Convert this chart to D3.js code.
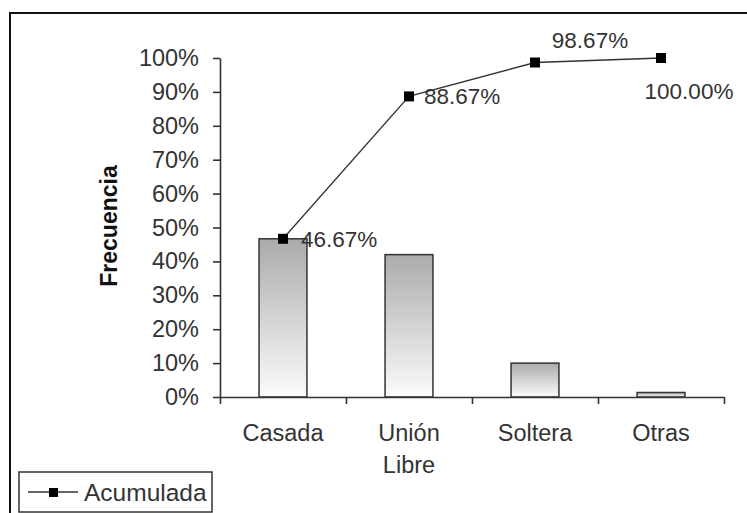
<!DOCTYPE html>
<html>
<head>
<meta charset="utf-8">
<script src="https://cdn.jsdelivr.net/npm/d3@7"></script>
<style>
  body { margin: 0; background: #fff; }
  svg text { font-family: "Liberation Sans", Arial, sans-serif; fill: #333; }
</style>
</head>
<body>
<script>
let categories = ['Casada', 'Unión Libre', 'Soltera', 'Otras'];
let frecuencia = [46.67, 42, 10, 1.33];
let acumulada = [46.67, 88.67, 98.67, 100];
let yTicks = [0, 10, 20, 30, 40, 50, 60, 70, 80, 90, 100];
// where each data label sits relative to its marker
let labelOffset = [[18, 8], [15, 8], [55, -15], [28, 41]];

let width = 747, height = 513;
let plot = { left: 220, right: 724, top: 58, bottom: 397 };

let svg = d3.select('body').append('svg')
    .attr('width', width)
    .attr('height', height);

// outer chart frame (cut off at right and bottom)
svg.append('rect')
    .attr('x', 10).attr('y', 13)
    .attr('width', 800).attr('height', 600)
    .attr('fill', 'none')
    .attr('stroke', '#111')
    .attr('stroke-width', 2);

let defs = svg.append('defs');
let grad = defs.append('linearGradient')
    .attr('id', 'barGrad')
    .attr('x1', 0).attr('y1', 0).attr('x2', 0).attr('y2', 1);
grad.append('stop').attr('offset', '0%').attr('stop-color', '#ababab');
grad.append('stop').attr('offset', '100%').attr('stop-color', '#fbfbfb');

let x = d3.scaleBand()
    .domain(categories)
    .range([plot.left, plot.right])
    .paddingInner(0.62)
    .paddingOuter(0.31);

let xEdges = d3.scaleLinear().domain([0, 4]).range([plot.left, plot.right]);

let y = d3.scaleLinear().domain([0, 100]).range([plot.bottom, plot.top]);

// bars
svg.selectAll('.bar')
    .data(frecuencia)
  .enter().append('rect')
    .attr('class', 'bar')
    .attr('x', function(d, i){ return x(categories[i]); })
    .attr('y', function(d){ return y(d); })
    .attr('width', x.bandwidth())
    .attr('height', function(d){ return y(0) - y(d); })
    .attr('fill', 'url(#barGrad)')
    .attr('stroke', '#333')
    .attr('stroke-width', 1.5);

// y axis
let yAxis = svg.append('g')
    .attr('transform', 'translate(' + plot.left + ',0)')
    .call(d3.axisLeft(y).tickValues(yTicks).tickSize(7).tickSizeOuter(0)
      .tickPadding(14).tickFormat(function(d){ return d + '%'; }));
yAxis.selectAll('text').style('font-size', '23.5px');

// x axis: ticks at category boundaries
svg.append('g')
    .attr('transform', 'translate(0,' + plot.bottom + ')')
    .call(d3.axisBottom(xEdges).tickValues([0, 1, 2, 3, 4]).tickSize(7)
      .tickSizeOuter(0).tickFormat(''));

svg.selectAll('.domain, .tick line')
    .attr('stroke', '#333')
    .attr('stroke-width', 1.6);

// category labels
let xLab = svg.selectAll('.xlab')
    .data(categories)
  .enter().append('text')
    .attr('class', 'xlab')
    .attr('text-anchor', 'middle')
    .attr('x', function(d){ return x(d) + x.bandwidth() / 2; })
    .attr('y', 441)
    .style('font-size', '23.5px');
xLab.each(function(d){
  let words = d.split(' ');
  let t = d3.select(this);
  words.forEach(function(w, i){
    t.append('tspan')
      .attr('x', x(d) + x.bandwidth() / 2)
      .attr('dy', i === 0 ? 0 : 32)
      .text(w);
  });
});

// y axis title
svg.append('text')
    .attr('transform', 'translate(117,226) rotate(-90)')
    .attr('text-anchor', 'middle')
    .style('font-size', '23px')
    .style('font-weight', 'bold')
    .style('fill', '#111')
    .text('Frecuencia');

// cumulative line
let cx = function(d, i){ return x(categories[i]) + x.bandwidth() / 2; };
let line = d3.line()
    .x(cx)
    .y(function(d){ return y(d); });

svg.append('path')
    .datum(acumulada)
    .attr('d', line)
    .attr('fill', 'none')
    .attr('stroke', '#333')
    .attr('stroke-width', 1.3);

svg.selectAll('.marker')
    .data(acumulada)
  .enter().append('rect')
    .attr('class', 'marker')
    .attr('x', function(d, i){ return cx(d, i) - 5; })
    .attr('y', function(d){ return y(d) - 5; })
    .attr('width', 10)
    .attr('height', 10)
    .attr('fill', '#000');

svg.selectAll('.dlabel')
    .data(acumulada)
  .enter().append('text')
    .attr('class', 'dlabel')
    .attr('x', function(d, i){ return cx(d, i) + labelOffset[i][0]; })
    .attr('y', function(d, i){ return y(d) + labelOffset[i][1]; })
    .attr('text-anchor', function(d, i){ return i >= 2 ? 'middle' : 'start'; })
    .style('font-size', '22.5px')
    .text(function(d){ return d.toFixed(2) + '%'; });

// legend
let legend = svg.append('g');
legend.append('rect')
    .attr('x', 19).attr('y', 472)
    .attr('width', 193).attr('height', 40)
    .attr('fill', '#fff')
    .attr('stroke', '#333')
    .attr('stroke-width', 1.5);
legend.append('line')
    .attr('x1', 28).attr('x2', 78)
    .attr('y1', 492).attr('y2', 492)
    .attr('stroke', '#333')
    .attr('stroke-width', 1.3);
legend.append('rect')
    .attr('x', 49).attr('y', 488)
    .attr('width', 9).attr('height', 9)
    .attr('fill', '#000');
legend.append('text')
    .attr('x', 84).attr('y', 501)
    .style('font-size', '24.5px')
    .text('Acumulada');
</script>
</body>
</html>
